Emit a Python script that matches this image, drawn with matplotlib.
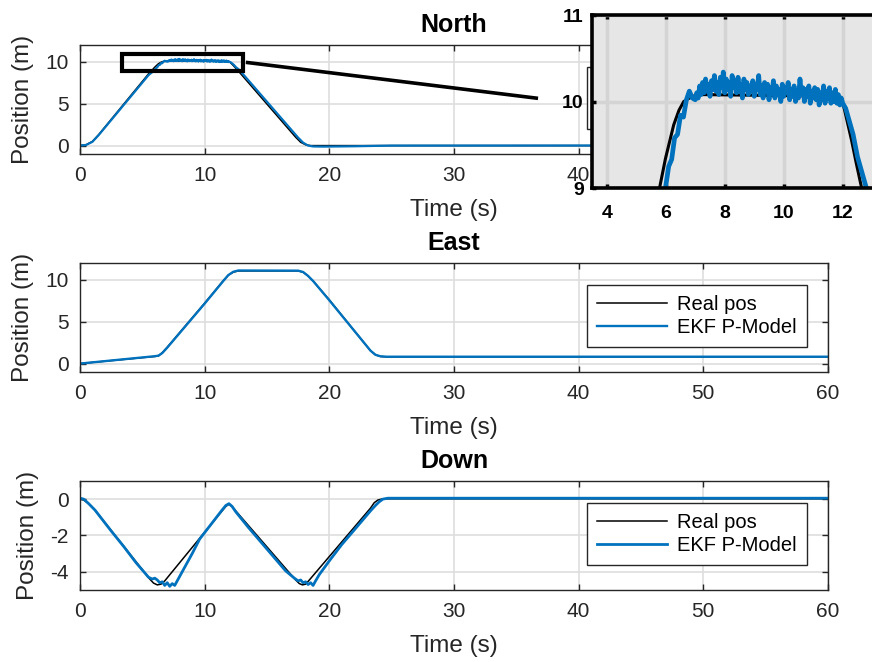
import numpy as np
import matplotlib.pyplot as plt
from matplotlib.patches import Rectangle

plt.rcParams['font.family'] = ['Liberation Sans', 'DejaVu Sans']
plt.rcParams['axes.unicode_minus'] = False

REAL_COLOR = 'black'
EST_COLOR = '#0072BD'
labels = ['Real pos', 'EKF P-Model']
x_ticks = [0, 10, 20, 30, 40, 50, 60]

# ---- North ----
north_real_t = [0, 0.5, 1.0, 1.5, 5.5, 5.79, 5.99, 6.27, 6.45, 6.61, 6.9, 7.2, 11.9,
                12.05, 12.3, 12.45, 12.64, 17.3, 17.7, 18.1, 18.5, 60]
north_real = [0, 0.1, 0.5, 1.3, 8.55, 9.0, 9.34, 9.73, 9.9, 10.0, 10.06, 10.08, 10.06,
              9.92, 9.55, 9.3, 9.0, 1.0, 0.4, 0.1, 0.0, 0.0]

north_est_t_rise = [0, 0.5, 1.0, 1.5, 5.5, 5.99, 6.1, 6.2, 6.3, 6.4, 6.5, 6.6, 6.7,
                    6.8, 6.9]
north_est_rise = [0, 0.08, 0.45, 1.25, 8.4, 9.0, 9.25, 9.33, 9.58, 9.62, 9.84, 9.82,
                  10.02, 10.12, 10.04]
# plateau samples 7.0 .. 12.0 s (every 0.05 s)
north_est_plateau = [
    10.02, 10.10, 10.04, 10.18, 10.08, 10.22, 10.10, 10.26, 10.12, 10.20,
    10.06, 10.24, 10.14, 10.30, 10.12, 10.22, 10.08, 10.28, 10.16, 10.34,
    10.10, 10.26, 10.14, 10.22, 10.06, 10.30, 10.16, 10.24, 10.10, 10.28,
    10.12, 10.20, 10.04, 10.26, 10.14, 10.22, 10.08, 10.18, 10.12, 10.24,
    10.06, 10.20, 10.14, 10.30, 10.08, 10.18, 10.04, 10.22, 10.12, 10.20,
    10.02, 10.16, 10.10, 10.24, 10.04, 10.18, 10.08, 10.14, 10.00, 10.20,
    10.06, 10.16, 10.10, 10.22, 10.02, 10.14, 10.06, 10.18, 10.00, 10.12,
    10.04, 10.26, 10.08, 10.16, 10.00, 10.14, 10.06, 10.18, 9.98, 10.12,
    10.04, 10.16, 10.02, 10.14, 9.96, 10.10, 10.02, 10.18, 9.98, 10.12,
    10.04, 10.16, 9.98, 10.10, 10.00, 10.14, 9.98, 10.08, 9.96, 10.04,
    9.98]
north_est_t_fall = [12.1, 12.2, 12.35, 12.5, 12.65, 12.8, 17.5, 17.9, 18.3, 18.7,
                    19.5, 22, 25, 60]
north_est_fall = [9.92, 9.8, 9.62, 9.36, 9.18, 9.0, 0.95, 0.35, 0.0, -0.1,
                  -0.12, -0.08, 0.0, 0.02]

# ---- East ----
east_real_t = [0, 6.0, 6.3, 6.6, 7.0, 10, 11.5, 11.9, 12.3, 12.7, 17.5, 17.9, 18.3,
               18.7, 20, 23.3, 23.7, 24.1, 24.6, 60]
east_real = [0, 0.85, 0.92, 1.3, 1.95, 7.2, 9.9, 10.55, 10.9, 11.05, 11.05, 10.9,
             10.45, 9.85, 7.6, 1.55, 1.05, 0.85, 0.8, 0.8]
east_est_t = east_real_t
east_est = [0, 0.88, 0.95, 1.25, 1.9, 7.15, 9.85, 10.55, 10.95, 11.1, 11.08, 10.92,
            10.45, 9.85, 7.55, 1.55, 1.05, 0.87, 0.82, 0.82]

# ---- Down ----
down_real_t = [0, 0.3, 0.7, 1.2, 5.6, 5.9, 6.2, 6.5, 6.8, 11.4, 11.7, 11.95, 12.2,
               12.5, 17.3, 17.6, 17.85, 18.1, 18.4, 23.3, 23.6, 23.9, 24.3, 60]
down_real = [0, -0.05, -0.25, -0.6, -4.4, -4.62, -4.72, -4.68, -4.5, -0.65, -0.4,
             -0.28, -0.4, -0.65, -4.45, -4.65, -4.72, -4.68, -4.45, -0.5, -0.2,
             -0.05, 0.02, 0.02]
down_est_t = [0, 0.3, 0.7, 1.2, 2.5, 3.5, 4.5, 5.5, 5.8, 6.0, 6.2, 6.4, 6.6, 6.8,
              7.0, 7.2, 7.4, 7.6, 7.8, 8.2, 9.0, 9.6, 10.5, 11.4, 11.7, 11.95, 12.2,
              12.5, 13.5, 15.0, 16.5, 17.2, 17.5, 17.7, 17.9, 18.1, 18.3, 18.5, 18.7,
              18.9, 19.2, 20.0, 21.0, 22.0, 23.3, 23.7, 24.0, 24.3, 24.7, 25.0, 60]
down_est = [0.05, 0.0, -0.25, -0.6, -1.75, -2.6, -3.5, -4.3, -4.4, -4.35, -4.45,
            -4.6, -4.55, -4.75, -4.6, -4.8, -4.65, -4.75, -4.5, -4.0, -3.0, -2.2,
            -1.4, -0.6, -0.35, -0.25, -0.4, -0.7, -1.55, -2.75, -3.95, -4.35, -4.5,
            -4.45, -4.6, -4.55, -4.7, -4.6, -4.75, -4.5, -4.15, -3.4, -2.5, -1.7,
            -0.65, -0.35, -0.15, 0.0, 0.05, 0.05, 0.05]

# zoom box / link line (top axes data coords)
zoom_box = (3.4, 8.95, 9.7, 2.0)
link_x = [13.45, 36.6]
link_y = [9.9, 5.66]

north_est_t = np.concatenate([north_est_t_rise,
                              np.linspace(7.0, 12.0, len(north_est_plateau)),
                              north_est_t_fall])
north_est = np.concatenate([north_est_rise, north_est_plateau, north_est_fall])

fig = plt.figure(figsize=(8.72, 6.62), dpi=100)

panels = [
    ('North', 0.7674, north_real_t, north_real, north_est_t, north_est, (-1, 12), [0, 5, 10], 1.6),
    ('East', 0.4381, east_real_t, east_real, east_est_t, east_est, (-1, 12), [0, 5, 10], 1.7),
    ('Down', 0.1088, down_real_t, down_real, down_est_t, down_est, (-5, 1), [-4, -2, 0], 2.0),
]

axes = []
for title, bottom, rt, rv, et, ev, ylim, yt, est_lw in panels:
    ax = fig.add_axes([0.0917, bottom, 0.8578, 0.1647])
    ax.plot(rt, rv, color=REAL_COLOR, lw=1.1, label=labels[0])
    ax.plot(et, ev, color=EST_COLOR, lw=est_lw, label=labels[1])
    ax.set_xlim(0, 60)
    ax.set_ylim(*ylim)
    ax.set_xticks(x_ticks)
    ax.set_yticks(yt)
    ax.grid(True, color='#dedede', lw=1.2)
    ax.set_axisbelow(True)
    for s in ax.spines.values():
        s.set_color('#262626')
        s.set_linewidth(1.0)
    ax.tick_params(direction='in', length=4, width=1.0, colors='#262626',
                   labelsize=15, top=True, right=True)
    ax.tick_params(axis='x', pad=9)
    ax.tick_params(axis='y', pad=8)
    ax.set_title(title, fontsize=18, fontweight='bold', pad=9)
    ax.set_xlabel('Time (s)', fontsize=17.5, color='#262626', labelpad=10)
    ax.set_ylabel('Position (m)', fontsize=17.5, color='#262626', labelpad=8)
    leg = ax.legend(loc='upper right', bbox_to_anchor=(1 - 21 / 748, 1 - 22 / 109),
                    borderaxespad=0, fancybox=False, framealpha=1, fontsize=14.5,
                    handlelength=3.5, handletextpad=0.5, borderpad=0.5, labelspacing=0.2)
    leg.get_frame().set_edgecolor('#262626')
    leg.get_frame().set_linewidth(1.0)
    axes.append(ax)

ax_n = axes[0]
ax_n.add_patch(Rectangle(zoom_box[:2], zoom_box[2], zoom_box[3], fill=False,
                         edgecolor='black', lw=3, zorder=5))
ax_n.plot(link_x, link_y, color='black', lw=2.6, zorder=5, clip_on=False)

# inset
axi = fig.add_axes([592 / 872, 1 - 188 / 662, 295 / 872, 173 / 662])
axi.set_facecolor('#e6e6e6')
axi.plot(north_real_t, north_real, color=REAL_COLOR, lw=2.2)
axi.plot(north_est_t, north_est, color=EST_COLOR, lw=3.4)
axi.set_xlim(3.5, 13.5)
axi.set_ylim(9, 11)
axi.set_xticks([4, 6, 8, 10, 12])
axi.set_yticks([9, 10, 11])
axi.grid(True, color='#d4d4d4', lw=2.5)
axi.set_axisbelow(True)
for s in axi.spines.values():
    s.set_color('black')
    s.set_linewidth(2.6)
axi.tick_params(direction='in', length=3, width=2.5, labelsize=14, top=True,
                right=True)
axi.tick_params(axis='x', pad=12)
axi.tick_params(axis='y', pad=6)
for lab in axi.get_xticklabels() + axi.get_yticklabels():
    lab.set_fontweight('bold')

fig.savefig('out.png', dpi=100)
